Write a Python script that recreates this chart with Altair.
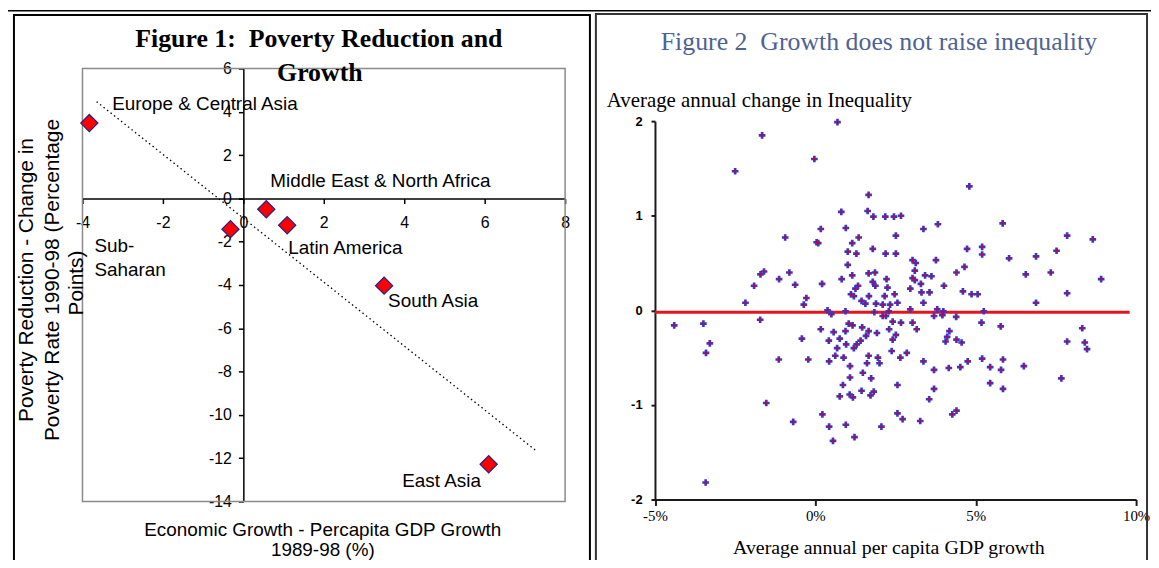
import altair as alt
import pandas as pd

# ---------------- Figure 1 data ----------------
regions = ["Europe & Central Asia", "Sub-Saharan", "Middle East & North Africa",
           "Latin America", "South Asia", "East Asia"]
region_labels = ["Europe & Central Asia", "Sub-\nSaharan", "Middle East & North Africa",
                 "Latin America", "South Asia", "East Asia"]
growth = [-3.83, -0.32, 0.57, 1.09, 3.50, 6.10]
poverty_change = [3.48, -1.42, -0.50, -1.24, -4.03, -12.28]

fig1_x_ticks = [-4, -2, 0, 2, 4, 6, 8]
fig1_y_ticks = [6, 4, 2, 0, -2, -4, -6, -8, -10, -12, -14]
trend_extent = [-3.65, 7.3]

# ---------------- Figure 2 data ----------------
gdp_growth = [
    0.69, -1.66, -0.03, -2.50, 1.66, 0.81, 1.63, 1.81, 2.18, 2.45,
    0.17, 0.95, -0.94, 0.04, 0.09, 1.35, 1.15, 2.51, 1.01, 1.28,
    1.79, 2.19, 2.51, 1.01, -1.60, -1.71, -0.81, 1.15, 1.66, 1.86,
    2.22, -1.13, 0.82, -1.91, -0.63, 0.21, 1.79, 1.87, 1.33, 1.25,
    2.25, 1.11, 1.20, 1.67, 2.16, 2.47, -0.28, -2.18, -0.36, 1.44,
    1.56, 1.89, 2.10, 2.33, 2.56, 0.38, 0.50, 0.94, 1.84, 2.29,
    4.80, 2.67, 3.37, 3.82, 5.84, 7.85, 8.65, 4.73, 5.20, 5.20,
    6.04, 6.88, 7.52, 3.03, 3.13, 3.76, 3.10, 4.65, 4.40, 3.42,
    3.62, 3.03, 3.10, 6.56, 7.34, 8.91, 3.29, 4.01, 2.96, 3.31,
    3.56, 4.60, 4.87, 5.06, 7.85, 3.37, 6.88, 2.96, 3.80, 3.99,
    5.25,
    -4.40, -3.49, -1.72, -3.29, -3.41, -1.14, -0.22, -0.42, 0.17, 0.42,
    0.57, 0.76, 0.94, 1.04, 1.16, 1.46, 1.66, 1.92, 1.58, 1.41,
    1.29, 1.20, 0.96, 0.68, 0.62, 0.43, 0.88, 1.08, 1.66, 1.95,
    2.00, 1.61, 1.48, 1.74, 1.08, 0.86, 1.44, 0.76, 1.07, 1.17,
    1.72, 1.82, -1.53, 0.22, -0.69, 0.43, 0.95, 1.22, 0.55, 2.06,
    -3.42, 2.38, 2.56, 2.56, 2.41, 2.30, 2.20, 2.41, 2.10,
    3.96, 3.70, 4.39, 2.67, 3.03, 3.16, 2.51, 5.18, 5.78, 8.32,
    7.85, 8.40, 8.47, 4.18, 4.11, 4.06, 4.40, 4.56, 2.85, 2.65,
    3.37, 3.70, 4.16, 4.52, 4.75, 5.20, 5.45, 5.79, 5.85, 6.50,
    7.67, 5.45, 3.70, 5.85, 3.55, 2.72, 3.27, 4.27, 4.40,
]
ineq_change = [
    1.99, 1.85, 1.60, 1.47, 1.22, 1.04, 1.05, 0.99, 0.99, 0.99,
    0.86, 0.87, 0.77, 0.72, 0.71, 0.77, 0.71, 0.79, 0.62, 0.60,
    0.65, 0.60, 0.60, 0.48, 0.41, 0.38, 0.40, 0.37, 0.39, 0.40,
    0.33, 0.33, 0.33, 0.26, 0.27, 0.28, 0.30, 0.26, 0.26, 0.23,
    0.24, 0.17, 0.15, 0.15, 0.15, 0.17, 0.13, 0.08, 0.06, 0.10,
    0.07, 0.07, 0.06, 0.06, 0.08, 0.00, -0.04, -0.01, -0.02, -0.01,
    1.31, 1.00, 0.86, 0.91, 0.92, 0.79, 0.75, 0.65, 0.67, 0.59,
    0.55, 0.57, 0.63, 0.53, 0.50, 0.53, 0.42, 0.46, 0.40, 0.37,
    0.36, 0.34, 0.32, 0.38, 0.40, 0.33, 0.28, 0.26, 0.23, 0.19,
    0.19, 0.20, 0.17, 0.17, 0.18, 0.08, 0.08, 0.01, 0.01, -0.01,
    -0.01,
    -0.16, -0.14, -0.10, -0.35, -0.45, -0.52, -0.52, -0.30, -0.20, -0.32,
    -0.23, -0.30, -0.22, -0.14, -0.16, -0.18, -0.22, -0.24, -0.27, -0.32,
    -0.36, -0.40, -0.36, -0.40, -0.48, -0.54, -0.50, -0.59, -0.48, -0.50,
    -0.56, -0.56, -0.66, -0.72, -0.71, -0.79, -0.85, -0.91, -0.89, -0.92,
    -0.90, -0.86, -0.98, -1.10, -1.18, -1.23, -1.21, -1.34, -1.38, -1.23,
    -1.82, -0.43, -0.79, -1.09, -0.31, -0.20, -0.06, -0.12, -0.06,
    -0.05, -0.06, -0.07, -0.13, -0.13, -0.20, -0.26, -0.13, -0.17, -0.19,
    -0.33, -0.34, -0.41, -0.22, -0.28, -0.33, -0.31, -0.34, -0.45, -0.50,
    -0.54, -0.63, -0.61, -0.60, -0.54, -0.51, -0.60, -0.63, -0.52, -0.59,
    -0.72, -0.77, -0.83, -0.83, -0.94, -1.15, -1.17, -1.10, -1.06,
]
fig2_x_ticks = [-5, 0, 5, 10]
fig2_y_ticks = [-2, -1, 0, 1, 2]
fit_x = [-5, 9.8]
fit_y = [-0.02, -0.02]

# ---------------- frames ----------------
left_df = pd.DataFrame({"region": regions, "label": region_labels,
                        "growth": growth, "change": poverty_change})
right_df = pd.DataFrame({"gdp": gdp_growth, "ineq": ineq_change})
fit_df = pd.DataFrame({"gdp": fit_x, "ineq": fit_y})
one = alt.Data(values=[{}])

SANS = "Liberation Sans"
SERIF = "Liberation Serif"
H = 552

# ---------------- Figure 1 ----------------
lxs = alt.Scale(domain=[-4, 8], range=[75, 561], nice=False, zero=False)
lys = alt.Scale(domain=[-14, 6], range=[495, 59], nice=False, zero=False)
lxa = alt.Axis(orient="bottom", offset=190 - H, values=fig1_x_ticks,
               labelExpr="datum.value + ''", title=None, grid=False,
               domainColor="black", domainWidth=1.5, tickColor="black",
               tickWidth=1.5, tickSize=5, labelFont=SANS, labelFontSize=16,
               labelColor="black", labelPadding=11, labelFlush=False,
               labelOverlap=False)
lya = alt.Axis(orient="left", offset=-237, values=fig1_y_ticks,
               labelExpr="datum.value + ''", title=None, grid=False,
               domainColor="black", domainWidth=1.5, tickColor="black",
               tickWidth=1.5, tickSize=5, labelFont=SANS, labelFontSize=16,
               labelColor="black", labelPadding=7, labelFlush=False,
               labelOverlap=False)
LX = alt.X("growth:Q", scale=lxs, axis=lxa)
LY = alt.Y("change:Q", scale=lys, axis=lya)

frame_left = alt.Chart(one).mark_rect(fillOpacity=0, stroke="black", strokeWidth=2).encode(
    x=alt.value(6), x2=alt.value(586), y=alt.value(5), y2=alt.value(700))
top_rule = alt.Chart(one).mark_rule(color="black", strokeWidth=1.5).encode(
    x=alt.value(0), x2=alt.value(1151), y=alt.value(0.75))

box = alt.Chart(one).mark_rect(fillOpacity=0, stroke="#8a8a8a", strokeWidth=1.5).encode(
    x=alt.XDatum(fig1_x_ticks[0], type="quantitative", scale=lxs, axis=lxa),
    x2=alt.X2Datum(fig1_x_ticks[-1]),
    y=alt.YDatum(fig1_y_ticks[0], type="quantitative", scale=lys, axis=lya),
    y2=alt.Y2Datum(fig1_y_ticks[-1]))

trend = alt.Chart(left_df).transform_regression(
    "growth", "change", extent=trend_extent
).mark_line(color="black", strokeWidth=1.3, strokeDash=[1.5, 3]).encode(LX, LY)

diamonds = alt.Chart(left_df).mark_point(
    shape="diamond", filled=True, fill="#ff0000", stroke="#22228a",
    strokeWidth=1.2, size=300, opacity=1).encode(LX, LY)

label_style = {
    "Europe & Central Asia": (23, -19, "middle"),
    "Sub-Saharan": (-137, 8, "top"),
    "Middle East & North Africa": (4, -28, "middle"),
    "Latin America": (1, 23, "middle"),
    "South Asia": (4, 16, "middle"),
    "East Asia": (-87, 17, "middle"),
}
labels = [
    alt.Chart(left_df).transform_filter(alt.datum.region == r).mark_text(
        align="left", baseline=b, dx=dx, dy=dy, font=SANS, fontSize=19,
        lineBreak="\n", lineHeight=24, color="black").encode(LX, LY, text="label:N")
    for r, (dx, dy, b) in label_style.items()
]

def txt(s, x, y, **kw):
    return alt.Chart(one).mark_text(**kw).encode(
        x=alt.value(x), y=alt.value(y), text=alt.value(s))

fig1_texts = [
    txt("Figure 1:\u00a0 Poverty Reduction and", 313, 29, font=SERIF, fontSize=26,
        fontWeight="bold", align="center", baseline="middle", color="black"),
    txt("Growth", 314, 64, font=SERIF, fontSize=26, fontWeight="bold",
        align="center", baseline="middle", color="black"),
    txt("Poverty Reduction - Change in", 19, 272, font=SANS, fontSize=21,
        angle=270, align="center", baseline="middle", color="black"),
    txt("Poverty Rate 1990-98 (Percentage", 45, 272, font=SANS, fontSize=21,
        angle=270, align="center", baseline="middle", color="black"),
    txt("Points)", 70, 275, font=SANS, fontSize=21, angle=270,
        align="center", baseline="middle", color="black"),
    txt("Economic Growth - Percapita GDP Growth", 317, 524, font=SANS,
        fontSize=19, align="center", baseline="middle", color="black"),
    txt("1989-98 (%)", 317, 544, font=SANS, fontSize=19, align="center",
        baseline="middle", color="black"),
]

left = alt.layer(top_rule, frame_left, box, trend, diamonds, *labels, *fig1_texts)

# ---------------- Figure 2 ----------------
rxs = alt.Scale(domain=[-5, 10], range=[651.5, 1136], nice=False, zero=False)
rys = alt.Scale(domain=[-2, 2], range=[493, 112], nice=False, zero=False)
rxa = alt.Axis(orient="bottom", offset=493 - H, values=fig2_x_ticks,
               labelExpr="datum.value + '%'", title=None, grid=False,
               domainColor="#1a1a1a", domainWidth=2, tickColor="#1a1a1a",
               tickWidth=2, tickSize=6, labelFont=SERIF, labelFontSize=15,
               labelColor="black", labelPadding=3, labelFlush=False,
               labelOverlap=False)
rya = alt.Axis(orient="left", offset=-651.5, values=fig2_y_ticks,
               labelExpr="datum.value + ''", title=None, grid=False,
               domainColor="#1a1a1a", domainWidth=2, tickColor="#1a1a1a",
               tickWidth=2, tickSize=4, labelFont=SANS, labelFontSize=13,
               labelFontWeight="bold",
               labelColor="black", labelPadding=9, labelFlush=False,
               labelOverlap=False)
RX = alt.X("gdp:Q", scale=rxs, axis=rxa)
RY = alt.Y("ineq:Q", scale=rys, axis=rya)

frame_right = alt.Chart(one).mark_rect(fillOpacity=0, stroke="#333333", strokeWidth=2).encode(
    x=alt.value(592), x2=alt.value(1147), y=alt.value(4), y2=alt.value(700))

fit = alt.Chart(fit_df).mark_line(color="#e4161b", strokeWidth=3).encode(RX, RY)
blue = alt.Chart(right_df).mark_point(shape="cross", filled=True, color="#3636d8",
                                      size=45, opacity=1).encode(RX, RY)
red = alt.Chart(right_df).mark_point(shape="cross", filled=True, color="#e00000",
                                     size=8, opacity=1).encode(RX, RY)

fig2_texts = [
    txt("Figure 2\u00a0 Growth does not raise inequality", 877, 32, font=SERIF,
        fontSize=26, align="center", baseline="middle", color="#4f6393"),
    txt("Average annual change in Inequality", 603, 92, font=SERIF,
        fontSize=21, align="left", baseline="middle", color="black"),
    txt("Average annual per capita GDP growth", 887, 542, font=SERIF,
        fontSize=20, align="center", baseline="middle", color="black"),
]

right = alt.layer(frame_right, fit, blue, red, *fig2_texts)

chart = alt.layer(left, right).resolve_scale(
    x="independent", y="independent"
).properties(
    width=1151, height=H, padding=0,
    autosize=alt.AutoSizeParams(type="none"),
    background="white",
).configure_view(strokeWidth=0)

chart.save("out.html", embed_options={"renderer": "svg", "actions": False})
